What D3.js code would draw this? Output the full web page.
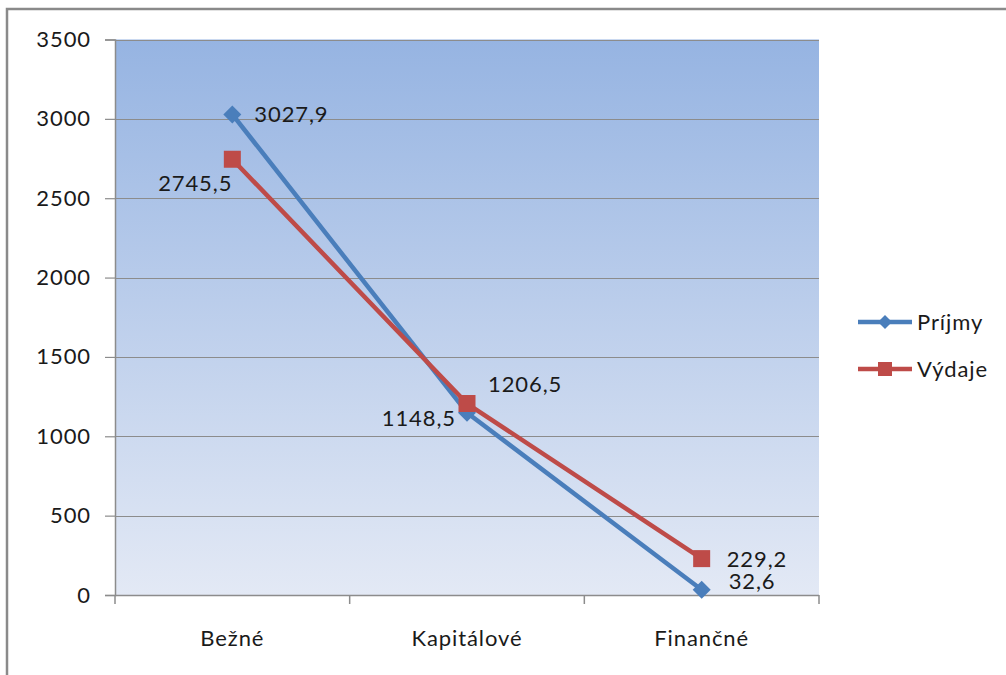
<!DOCTYPE html>
<html>
<head>
<meta charset="utf-8">
<script src="https://cdn.jsdelivr.net/npm/d3@7"></script>
<style>
  body { margin: 0; background: #ffffff; }
  svg { display: block; }
  text { font-family: Lato, "Open Sans", sans-serif; fill: #1a1a1a; letter-spacing: 0.9px; }
</style>
</head>
<body>
<div id="chart"></div>
<script>
var categories = ['Bežné', 'Kapitálové', 'Finančné'];
var prijmy = [3027.9, 1148.5, 32.6];
var vydaje = [2745.5, 1206.5, 229.2];
var yTicks = [0, 500, 1000, 1500, 2000, 2500, 3000, 3500];
var seriesNames = ['Príjmy', 'Výdaje'];

var width = 1006, height = 675;
var plot = { left: 115, right: 819, top: 39.5, bottom: 595 };
var blue = '#4a7ebb', red = '#be4b48';

var svg = d3.select('#chart').append('svg')
  .attr('width', width)
  .attr('height', height);

// outer frame
svg.append('path')
  .attr('d', 'M7,' + height + 'V9H' + width)
  .attr('fill', 'none')
  .attr('stroke', '#8a8a8a')
  .attr('stroke-width', 2.5);

var defs = svg.append('defs');
var grad = defs.append('linearGradient')
  .attr('id', 'bg')
  .attr('x1', 0).attr('y1', 0).attr('x2', 0).attr('y2', 1);
grad.append('stop').attr('offset', '0%').attr('stop-color', '#96b4e2');
grad.append('stop').attr('offset', '100%').attr('stop-color', '#e3e9f5');

var x = d3.scaleBand()
  .domain(categories)
  .range([plot.left, plot.right]);
var y = d3.scaleLinear()
  .domain([0, 3500])
  .range([plot.bottom, plot.top]);

svg.append('rect')
  .attr('x', plot.left)
  .attr('y', plot.top)
  .attr('width', plot.right - plot.left)
  .attr('height', plot.bottom - plot.top)
  .attr('fill', 'url(#bg)');

// gridlines
svg.selectAll('line.grid')
    .data(yTicks)
  .enter().append('line')
    .attr('class', 'grid')
    .attr('x1', plot.left)
    .attr('x2', plot.right)
    .attr('y1', function(d) { return Math.round(y(d)) + 0.5; })
    .attr('y2', function(d) { return Math.round(y(d)) + 0.5; })
    .attr('stroke', '#8c8c8c')
    .attr('stroke-width', 1.2);

// y axis
var yAxis = svg.append('g')
  .attr('transform', 'translate(' + plot.left + ',0)')
  .call(d3.axisLeft(y).tickValues(yTicks).tickSize(10).tickPadding(14).tickFormat(d3.format('d')));
yAxis.select('.domain').attr('stroke', '#8c8c8c').attr('stroke-width', 1.5);
yAxis.selectAll('.tick line').attr('stroke', '#8c8c8c').attr('stroke-width', 1.2);
yAxis.selectAll('.tick text')
  .attr('font-size', '22px')
  .attr('font-family', 'Lato, "Open Sans", sans-serif')
  .attr('fill', '#1a1a1a');

// x axis
var xAxis = svg.append('g')
  .attr('transform', 'translate(0,' + plot.bottom + ')');
xAxis.append('line')
  .attr('x1', plot.left).attr('x2', plot.right)
  .attr('y1', 0.5).attr('y2', 0.5)
  .attr('stroke', '#8c8c8c').attr('stroke-width', 1.5);
var bounds = categories.map(function(c) { return x(c); }).concat([plot.right]);
xAxis.selectAll('line.tick')
    .data(bounds)
  .enter().append('line')
    .attr('class', 'tick')
    .attr('x1', function(d) { return d; })
    .attr('x2', function(d) { return d; })
    .attr('y1', 0).attr('y2', 9)
    .attr('stroke', '#8c8c8c').attr('stroke-width', 1.5);
xAxis.selectAll('text')
    .data(categories)
  .enter().append('text')
    .attr('x', function(d) { return x(d) + x.bandwidth() / 2; })
    .attr('y', 51)
    .attr('text-anchor', 'middle')
    .attr('font-size', '22px')
    .text(function(d) { return d; });

var series = [
  { name: seriesNames[0], values: prijmy, color: blue, marker: 'diamond',
    labelPos: [{ dx: 22, dy: 8, anchor: 'start' }, { dx: -11, dy: 13, anchor: 'end' }, { dx: 27, dy: -1, anchor: 'start' }] },
  { name: seriesNames[1], values: vydaje, color: red, marker: 'square',
    labelPos: [{ dx: 0, dy: 32, anchor: 'end' }, { dx: 21, dy: -12, anchor: 'start' }, { dx: 25, dy: 8, anchor: 'start' }] }
];

var line = d3.line()
  .x(function(d, i) { return x(categories[i]) + x.bandwidth() / 2; })
  .y(function(d) { return y(d); });

function drawMarker(g, type, color) {
  if (type === 'diamond') {
    g.append('path').attr('d', 'M0,-9L9,0L0,9L-9,0Z').attr('fill', color);
  } else {
    g.append('rect').attr('x', -8.5).attr('y', -8.5).attr('width', 17).attr('height', 17).attr('fill', color);
  }
}

series.forEach(function(s) {
  svg.append('path')
    .datum(s.values)
    .attr('d', line)
    .attr('fill', 'none')
    .attr('stroke', s.color)
    .attr('stroke-width', 4.5)
    .attr('stroke-linejoin', 'round');
});

series.forEach(function(s) {
  s.values.forEach(function(v, i) {
    var cx = x(categories[i]) + x.bandwidth() / 2;
    var cy = y(v);
    var g = svg.append('g').attr('transform', 'translate(' + cx + ',' + cy + ')');
    drawMarker(g, s.marker, s.color);
  });
});

series.forEach(function(s) {
  s.values.forEach(function(v, i) {
    var cx = x(categories[i]) + x.bandwidth() / 2;
    var cy = y(v);
    var p = s.labelPos[i];
    svg.append('text')
      .attr('x', cx + p.dx)
      .attr('y', cy + p.dy)
      .attr('text-anchor', p.anchor)
      .attr('font-size', '22px')
      .text(String(v).replace('.', ','));
  });
});

// legend
var legend = svg.selectAll('g.legend')
    .data(series)
  .enter().append('g')
    .attr('class', 'legend')
    .attr('transform', function(d, i) { return 'translate(858,' + (322 + i * 47) + ')'; });
legend.append('line')
  .attr('x1', 0).attr('x2', 54)
  .attr('stroke', function(d) { return d.color; })
  .attr('stroke-width', 4.5);
legend.each(function(d) {
  var m = d3.select(this).append('g').attr('transform', 'translate(27,0)');
  if (d.marker === 'diamond') {
    m.append('path').attr('d', 'M0,-7L7,0L0,7L-7,0Z').attr('fill', d.color);
  } else {
    m.append('rect').attr('x', -7).attr('y', -7).attr('width', 14).attr('height', 14).attr('fill', d.color);
  }
});
legend.append('text')
  .attr('x', 59)
  .attr('y', 8)
  .attr('font-size', '22px')
  .text(function(d) { return d.name; });
</script>
</body>
</html>
